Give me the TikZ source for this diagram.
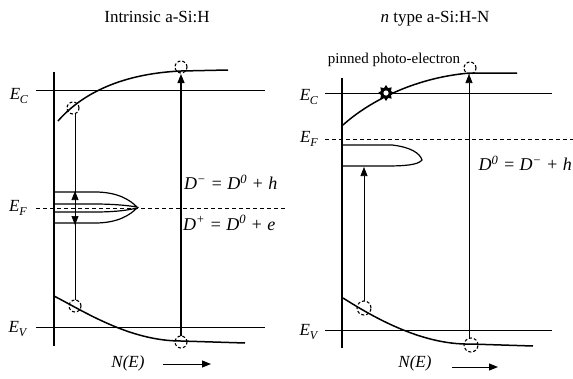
\documentclass[tikz,border=0pt]{standalone}
\usepackage{fontspec}
\setmainfont{Liberation Serif}
\usetikzlibrary{arrows.meta,shapes.geometric}
\newcommand{\Elab}[1]{\textit{E}\kern-0.3pt\raisebox{-0.5ex}{\fontsize{12}{12}\selectfont\textit{#1}}}
\begin{document}
\begin{tikzpicture}[x=1pt,y=-1pt,
  axis/.style={line width=1.1pt},
  level/.style={line width=1pt},
  fermi/.style={line width=0.9pt,dash pattern=on 4pt off 3pt},
  band/.style={line width=1.5pt},
  lobe/.style={line width=1.2pt},
  thinln/.style={line width=0.7pt},
  dcirc/.style={line width=1.1pt,dash pattern=on 3pt off 2pt},
  tri/.style={-{Triangle[length=9pt,width=7pt]}},
  lbl/.style={font=\fontsize{17}{19}\selectfont, inner sep=0pt},
  eq/.style={font=\fontsize{18}{20}\selectfont\itshape, inner sep=0pt, anchor=west},
  ttl/.style={font=\fontsize{17}{19}\selectfont, inner sep=0pt}]
\useasboundingbox (0,0) rectangle (573,378);
\fill[white] (0,0) rectangle (573,378);

% ---------------- left panel ----------------
\node[ttl] (t1) at (157,17) {Intrinsic a-Si:H};
\draw[axis] (54,72) -- (54,346);
\draw[level] (36,90) -- (265,90);
\draw[level] (36,327) -- (265,327);
\draw[fermi] (36,208) -- (287,208);
\node[lbl] (ec1) at (19,96) {\Elab{C}};
\node[lbl] (ef1) at (18,208) {\Elab{F}};
\node[lbl] (ev1) at (18,329) {\Elab{V}};

\draw[band] (58,121) .. controls (78,98) and (115,74) .. (181,71) -- (228,70);
\draw[band] (54,296) .. controls (85,312) and (130,341) .. (181,341) -- (245,343);

\draw[lobe] (54,192) -- (95,192) .. controls (118,192) and (130,200) .. (137,207)
  .. controls (125,205) and (110,204) .. (95,204) -- (54,204);
\draw[lobe] (54,223) -- (95,223) .. controls (118,223) and (130,215) .. (137,208)
  .. controls (125,211) and (110,212) .. (95,212) -- (54,212);

\coordinate (l1top) at (75,114);
\coordinate (l1bot) at (75,300);
\draw[thinln] (l1top) -- (l1bot);
\coordinate (l1m1) at (75,206);
\coordinate (l1u) at (75,191);
\coordinate (l1m2) at (75,210);
\coordinate (l1d) at (75,225);
\draw[thinln,tri] (l1m1) -- (l1u);
\draw[thinln,tri] (l1m2) -- (l1d);

\draw[dcirc] (73,108) circle[radius=6pt];
\draw[dcirc] (75,306) circle[radius=6pt];
\draw[dcirc] (181,67) circle[radius=6pt];
\draw[dcirc] (181,342) circle[radius=6pt];

\coordinate (l2bot) at (181,336);
\coordinate (l2top) at (181,74);
\draw[line width=1.2pt,tri] (l2bot) -- (l2top);

\node[eq] (dm1) at (184,182) {D\textsuperscript{−} = D\textsuperscript{0} + h};
\node[eq] (dp1) at (183,223) {D\textsuperscript{+} = D\textsuperscript{0} + e};

\node[lbl,font=\fontsize{17}{19}\selectfont\itshape] (ne1) at (128,363) {N(E)};
\coordinate (a1s) at (163,364);
\coordinate (a1e) at (211,364);
\draw[line width=1pt,tri] (a1s) -- (a1e);

% ---------------- right panel ----------------
\node[ttl] (t2) at (435,19) {\textit{n} type a-Si:H-N};
\node[font=\fontsize{15}{17}\selectfont, inner sep=0pt] (pin) at (394,60) {pinned photo-electron};
\draw[axis,line width=1.4pt] (342,78) -- (342,348);
\draw[level] (325,93) -- (552,93);
\draw[level] (325,330) -- (552,330);
\draw[fermi] (325,139) -- (573,139);
\node[lbl] (ec2) at (309,97) {\Elab{C}};
\node[lbl] (ef2) at (309,139) {\Elab{F}};
\node[lbl] (ev2) at (309,332) {\Elab{V}};

\draw[band] (343,125) .. controls (365,105) and (410,78) .. (470,73) -- (517,73);
\draw[band] (343,298) .. controls (370,315) and (420,345) .. (470,344) -- (533,346);

\draw[lobe] (343,145) -- (392,145) .. controls (410,147) and (420,153) .. (422,160)
  .. controls (418,165) and (405,166) .. (385,166) -- (343,166);

\node[star, star points=8, star point ratio=1.5, minimum size=16pt, fill=black, inner sep=0pt] (st) at (386,93) {};
\fill[white] (st.center) circle[radius=2.6pt];

\draw[dcirc] (470,68) circle[radius=6pt];
\draw[dcirc] (364,308) circle[radius=7pt];
\draw[dcirc] (471,345) circle[radius=7pt];

\coordinate (r1bot) at (364,301);
\coordinate (r1top) at (364,167);
\draw[thinln,tri] (r1bot) -- (r1top);
\coordinate (r2bot) at (469,338);
\coordinate (r2top) at (469,74);
\draw[thinln,tri] (r2bot) -- (r2top);

\node[eq,anchor=east] (dm2) at (572,163) {D\textsuperscript{0} = D\textsuperscript{−} + h};

\node[lbl,font=\fontsize{17}{19}\selectfont\itshape] (ne2) at (415,363) {N(E)};
\coordinate (a2s) at (452,367);
\coordinate (a2e) at (498,367);
\draw[line width=1pt,tri] (a2s) -- (a2e);
\end{tikzpicture}
\end{document}
